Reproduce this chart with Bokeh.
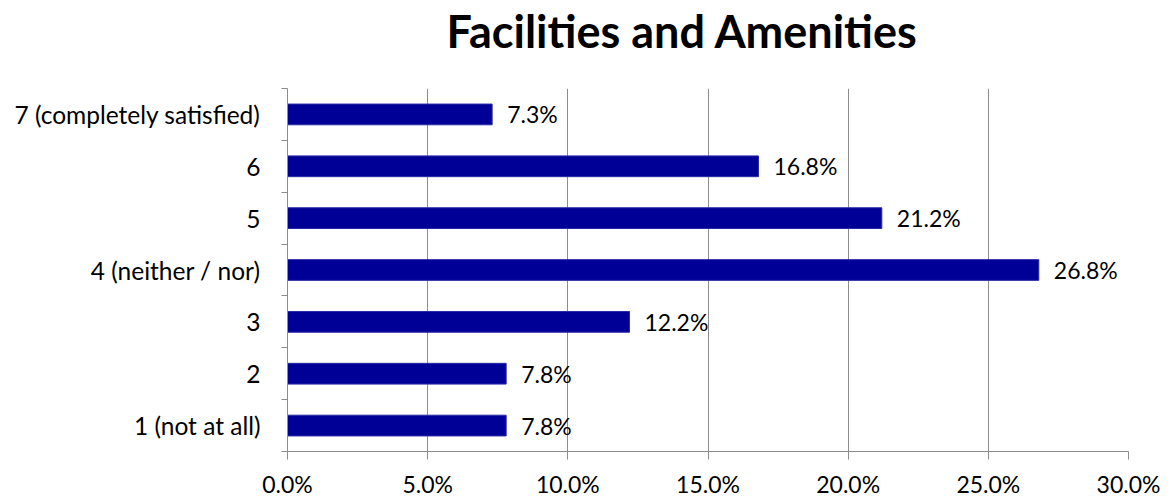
from bokeh.plotting import figure
from bokeh.models import ColumnDataSource, FixedTicker, NumeralTickFormatter, Range1d, Title
from bokeh.core.properties import value
from bokeh.embed import file_html
from bokeh.resources import INLINE

categories = ["1 (not at all)", "2", "3", "4 (neither / nor)", "5", "6", "7 (completely satisfied)"]
shares = [0.078, 0.078, 0.122, 0.268, 0.212, 0.168, 0.073]
x_ticks = [0.0, 0.05, 0.10, 0.15, 0.20, 0.25, 0.30]
title_text = "Facilities and Amenities"

FONT = "Lato"
GRID = "#8c8c8c"

ypos = [i + 0.5 for i in range(len(categories))]
src = ColumnDataSource(dict(
    y=ypos, v=shares,
    lbl=[f"{s*100:.1f}%" for s in shares],
))

p = figure(width=1170, height=500, output_backend="svg", toolbar_location=None,
           x_range=Range1d(0, 0.30), y_range=Range1d(0, len(categories)),
           min_border_left=287, min_border_right=42, min_border_top=88, min_border_bottom=47)
p.outline_line_color = None
p.background_fill_color = "white"
p.border_fill_color = "white"

# spacer between frame and title, then the title itself
p.add_layout(Title(text=" ", text_font_size="1px", standoff=28), "above")
p.add_layout(Title(text=title_text, text_font=FONT, text_font_size="45px",
                   text_font_style="bold", text_color="black",
                   align="left", offset=159, standoff=0), "above")

p.hbar(y="y", right="v", left=0, height=0.4, source=src,
       fill_color="#000096", line_color="#2a2aa6", line_width=1)
p.text(x="v", y="y", text="lbl", source=src, x_offset=15,
       text_align="left", text_baseline="middle",
       text_font=value(FONT), text_font_size="23px", text_color="black")

# x axis
p.xaxis.ticker = FixedTicker(ticks=x_ticks)
p.xaxis.formatter = NumeralTickFormatter(format="0.0%")
p.xaxis.axis_line_color = GRID
p.xaxis.major_tick_line_color = GRID
p.xaxis.major_tick_out = 8
p.xaxis.major_tick_in = 0
p.xaxis.minor_tick_line_color = None
p.xaxis.major_label_text_font = FONT
p.xaxis.major_label_text_font_size = "23px"
p.xaxis.major_label_text_color = "black"
p.xaxis.major_label_standoff = 10

# y axis
p.yaxis.ticker = FixedTicker(ticks=ypos, minor_ticks=list(range(len(categories) + 1)))
p.yaxis.major_label_overrides = {y: c for y, c in zip(ypos, categories)}
p.yaxis.axis_line_color = GRID
p.yaxis.major_tick_line_color = None
p.yaxis.major_tick_out = 0
p.yaxis.major_tick_in = 0
p.yaxis.minor_tick_line_color = GRID
p.yaxis.minor_tick_out = 6
p.yaxis.minor_tick_in = 0
p.yaxis.major_label_text_font = FONT
p.yaxis.major_label_text_font_size = "24.5px"
p.yaxis.major_label_text_color = "black"
p.yaxis.major_label_standoff = 21

p.xgrid.grid_line_color = GRID
p.ygrid.grid_line_color = None

open("out.html", "w").write(file_html(p, INLINE))
